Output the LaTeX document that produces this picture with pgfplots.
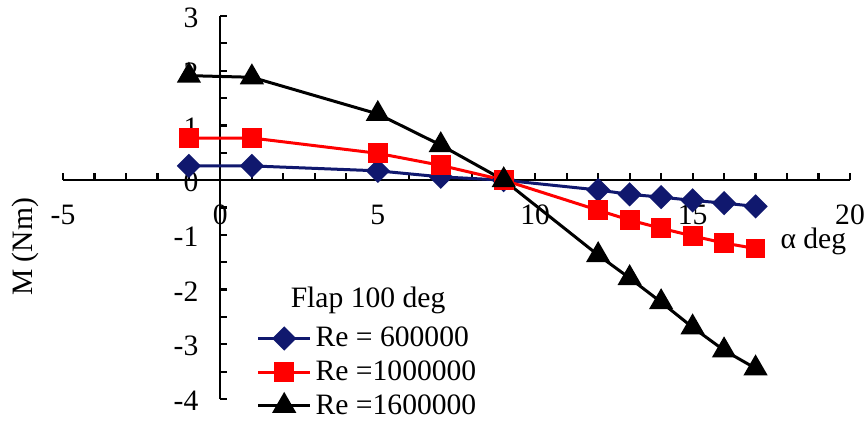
\documentclass[border=0pt]{standalone}
\usepackage{fontspec}
\setmainfont{Liberation Serif}
\usepackage{pgfplots}
\pgfplotsset{compat=1.18}
\usetikzlibrary{calc}
\definecolor{navyb}{RGB}{16,24,110}
\newcommand{\fs}{\fontsize{14.8}{17}\selectfont}
\begin{document}
\begin{tikzpicture}
\begin{axis}[
  scale only axis, width=393.5pt, height=191.5pt,
  xmin=-5, xmax=20, ymin=-4, ymax=3,
  axis lines=middle, axis line style={-, line width=1.1pt},
  xtick={-5,0,5,10,15,20}, minor xtick={-4,...,19},
  ytick={-4,-3,-2,-1,0,1,2,3}, minor ytick={-3.5,-2.5,-1.5,-0.5,0.5,1.5,2.5},
  hide obscured x ticks=false, hide obscured y ticks=false,
  tick align=inside,
  major tick length=3.5pt, minor tick length=3.5pt,
  tick style={black, line width=1.1pt},
  every tick label/.append style={font=\fs},
  x tick label style={yshift=-9pt},
  y tick label style={xshift=-7.5pt, yshift=-1pt},
  /pgf/number format/assume math mode=true,
  clip=false,
  legend style={at={(axis cs:0.95,-3.51)}, anchor=west, draw=none, fill=none, font=\fs, row sep=1.5pt},
  legend cell align=left,
  legend image code/.code={\draw[mark repeat=2,mark phase=2] plot coordinates {(0pt,0pt)(13pt,0pt)(26pt,0pt)};},
]
\addplot[navyb, line width=1.5pt, mark=square*, mark size=3.54pt, mark options={rotate=45, solid}] coordinates {
  (-1,0.26)(1,0.26)(5,0.17)(7,0.06)(9,0)(12,-0.18)(13,-0.26)(14,-0.31)(15,-0.37)(16,-0.42)(17,-0.48)};
\addlegendentry{Re = 600000}
\addplot[red, line width=1.5pt, mark=square*, mark size=4.2pt] coordinates {
  (-1,0.77)(1,0.77)(5,0.49)(7,0.27)(9,0)(12,-0.55)(13,-0.73)(14,-0.88)(15,-1.02)(16,-1.15)(17,-1.25)};
\addlegendentry{Re =1000000}
\addplot[black, line width=1.5pt, mark=triangle*, mark size=5.5pt] coordinates {
  (-1,1.91)(1,1.88)(5,1.21)(7,0.64)(9,0)(12,-1.37)(13,-1.79)(14,-2.23)(15,-2.69)(16,-3.11)(17,-3.44)};
\addlegendentry{Re =1600000}
\node[rotate=90, font=\fs] at (axis cs:-6.21,-1.22) {M (Nm)};
\node[anchor=base west, font=\fs, inner sep=0pt] at (axis cs:17.78,-1.25) {α deg};
\node[anchor=base, font=\fs] at (axis cs:4.69,-2.32) {Flap 100 deg};
\end{axis}
\pgfresetboundingbox
\path ($(current axis.south west)+(-31.5pt,-13pt)$) rectangle ($(current axis.north east)+(9pt,8pt)$);
\end{tikzpicture}
\end{document}
